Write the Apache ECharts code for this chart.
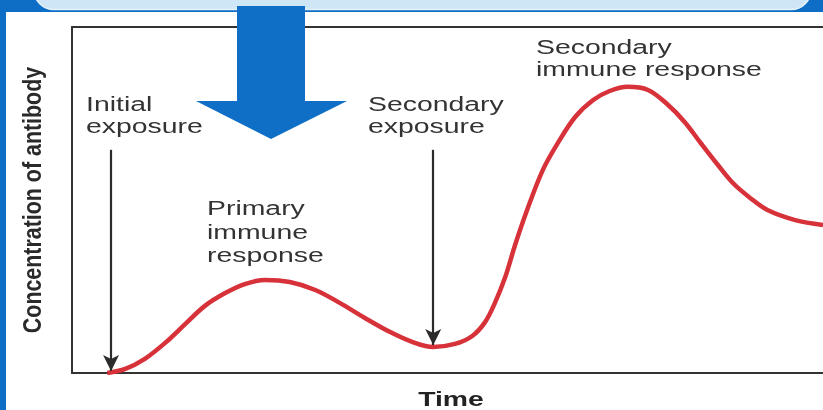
<!DOCTYPE html>
<html>
<head>
<meta charset="utf-8">
<script src="https://cdn.jsdelivr.net/npm/echarts@6/dist/echarts.min.js"></script>
<style>
    html, body { margin: 0; padding: 0; }
    #main { width: 823px; height: 410px; }
</style>
</head>
<body>
<div id="main"></div>
<script>
// antibody concentration over time, arbitrary units (0-100 on both axes)
const timePoints = [4.7, 7.1, 9.7, 12.4, 15.1, 17.7, 20.4, 23.0, 25.7, 29.0, 32.4, 35.7, 39.0,
    42.3, 45.3, 48.1, 51.0, 53.3, 55.0, 56.3, 57.7, 59.0, 60.6, 62.7, 64.7, 67.0, 69.4, 71.6,
    74.0, 76.7, 79.2, 81.6, 83.6, 85.9, 88.0, 90.3, 92.6, 96.3, 100];
const concentration = [0, 1.2, 4.1, 8.7, 14.2, 19.4, 23.1, 25.7, 26.9, 26.3, 24.0, 20.2, 15.9,
    11.9, 9.0, 7.5, 8.4, 10.7, 14.7, 20.2, 27.8, 37.0, 47.1, 58.7, 66.5, 74.0, 78.9, 81.5,
    82.7, 81.8, 77.8, 72.5, 66.8, 60.4, 54.9, 50.6, 47.1, 44.2, 42.8];

// exposure arrows: time of exposure, level where the arrow lands
const exposureTimes = [5.2, 48.1];
const exposureLevels = [0.6, 8.1];
const arrowStartLevel = 64.5;

const annotationTexts = ['Initial\nexposure', 'Primary\nimmune\nresponse', 'Secondary\nexposure', 'Secondary\nimmune response'];
const axisTitles = ['Time', 'Concentration of antibody'];

const myChart = echarts.init(document.getElementById('main'));

// where each annotation sits, in pixels
const annotationPos = [[86, 94], [207, 198], [368, 94], [536, 37]];
const annotationLineHeight = [22, 23.5, 22, 22];

const axisLineStyle = { color: '#333', width: 2 };
const hiddenParts = {
    axisTick: { show: false },
    axisLabel: { show: false },
    splitLine: { show: false }
};

const textElements = annotationTexts.map(function (t, i) {
    return {
        type: 'text',
        x: annotationPos[i][0],
        y: annotationPos[i][1],
        scaleX: 1.42,
        z: 50,
        style: {
            text: t,
            fill: '#333',
            fontFamily: 'Liberation Sans, Arial, sans-serif',
            fontSize: 20,
            lineHeight: annotationLineHeight[i],
            textAlign: 'left',
            verticalAlign: 'top'
        }
    };
});

const option = {
    animation: false,
    backgroundColor: '#0e6ec6',
    grid: {
        left: 72,
        right: 0,
        top: 27,
        bottom: 37,
        outerBoundsMode: 'none'
    },
    xAxis: [
        Object.assign({
            type: 'value',
            min: 0,
            max: 100,
            axisLine: { show: true, onZero: false, lineStyle: axisLineStyle }
        }, hiddenParts),
        Object.assign({
            type: 'value',
            position: 'top',
            min: 0,
            max: 100,
            axisLine: { show: true, onZero: false, lineStyle: axisLineStyle }
        }, hiddenParts)
    ],
    yAxis: Object.assign({
        type: 'value',
        min: 0,
        max: 100,
        axisLine: { show: true, onZero: false, lineStyle: axisLineStyle }
    }, hiddenParts),
    graphic: [
        // page frame
        { type: 'rect', z: -20, shape: { x: 6, y: 12, width: 817, height: 398 }, style: { fill: '#fff' } },
        {
            type: 'rect', z: -19,
            shape: { x: 34, y: -30, width: 777, height: 39.5, r: 20 },
            style: { fill: '#cfe6f6', stroke: '#e6f2fa', lineWidth: 1.5 }
        },
        // big blue arrow
        {
            type: 'polygon', z: 100,
            shape: { points: [[237, 6], [305, 6], [305, 101], [347, 101], [271, 139], [196, 101], [237, 101]] },
            style: { fill: '#0f6fc6' }
        },
        {
            type: 'text', x: 451, y: 400, scaleX: 1.35, z: 50,
            style: {
                text: axisTitles[0],
                fill: '#222',
                fontFamily: 'Liberation Sans, Arial, sans-serif',
                fontWeight: 'bold',
                fontSize: 21,
                textAlign: 'center',
                verticalAlign: 'middle'
            }
        },
        {
            // narrow, tall lettering like the original
            type: 'text', x: 34, y: 200, rotation: Math.PI / 2, scaleX: 1.07, scaleY: 1.26, z: 50,
            style: {
                text: axisTitles[1],
                fill: '#2a2a2a',
                fontFamily: 'Liberation Sans, Arial, sans-serif',
                fontWeight: 'bold',
                fontSize: 20,
                textAlign: 'center',
                verticalAlign: 'middle'
            }
        }
    ].concat(textElements),
    series: [
        {
            type: 'line',
            xAxisIndex: 0,
            smooth: 0.35,
            symbol: 'none',
            lineStyle: { color: '#d7313a', width: 4.5 },
            data: timePoints.map(function (t, i) { return [t, concentration[i]]; }),
            markLine: {
                silent: true,
                symbol: ['none', 'arrow'],
                symbolSize: [12, 16],
                label: { show: false },
                lineStyle: { color: '#2b2b2b', width: 2.2, type: 'solid' },
                data: exposureTimes.map(function (t, i) {
                    return [{ coord: [t, arrowStartLevel] }, { coord: [t, exposureLevels[i]] }];
                })
            }
        }
    ]
};

myChart.setOption(option);
</script>
</body>
</html>
